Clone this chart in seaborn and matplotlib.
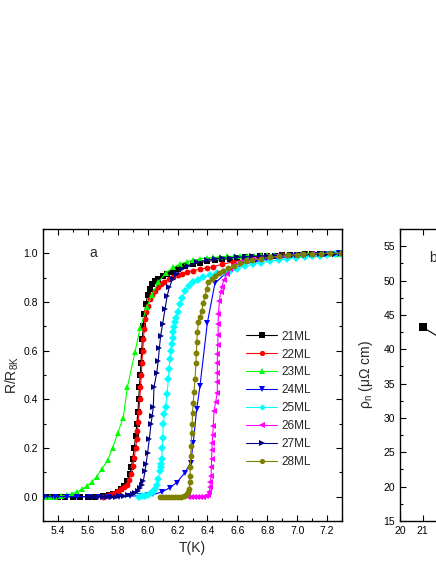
import numpy as np
import pandas as pd
import seaborn as sns
import matplotlib
matplotlib.use("Agg")
from matplotlib import pyplot as plt
import matplotlib.ticker as ticker

# ---- panel a data: R/R8K vs T(K) ----
T_21 = [5.31, 5.35, 5.40, 5.45, 5.50, 5.55, 5.60, 5.65, 5.70, 5.74, 5.77, 5.80, 5.82, 5.84, 5.86, 5.88,
        5.89, 5.90, 5.91, 5.92, 5.928, 5.935, 5.94, 5.945, 5.95, 5.955, 5.96, 5.965, 5.97, 5.978, 5.988,
        6.0, 6.015, 6.03, 6.05, 6.07, 6.1, 6.13, 6.17, 6.2, 6.25, 6.3, 6.35, 6.4, 6.45, 6.5, 6.55, 6.6,
        6.65, 6.7, 6.75, 6.8, 6.85, 6.9, 6.95, 7.0, 7.05, 7.1, 7.15, 7.2, 7.25, 7.29]
R_21 = [0.0, 0.0, 0.0, 0.0, 0.0, 0.0, 0.0, 0.0, 0.002, 0.005, 0.01, 0.02, 0.03, 0.045, 0.064, 0.092,
        0.12, 0.155, 0.2, 0.25, 0.3, 0.35, 0.4, 0.45, 0.5, 0.55, 0.6, 0.65, 0.7, 0.75, 0.79,
        0.83, 0.855, 0.872, 0.886, 0.896, 0.906, 0.915, 0.922, 0.935, 0.946, 0.955, 0.962, 0.967, 0.971, 0.975, 0.978, 0.98,
        0.983, 0.985, 0.987, 0.989, 0.991, 0.992, 0.994, 0.995, 0.996, 0.997, 0.998, 0.998, 0.999, 1.0]

T_22 = [5.70, 5.72, 5.74, 5.76, 5.78, 5.80, 5.82, 5.84, 5.86, 5.875, 5.89, 5.90, 5.91, 5.92, 5.927,
        5.932, 5.937, 5.942, 5.947, 5.952, 5.957, 5.962, 5.967, 5.972, 5.977, 5.983, 5.99, 6.0, 6.016,
        6.03, 6.049, 6.07, 6.09, 6.11, 6.14, 6.17, 6.2, 6.23, 6.26, 6.3, 6.35, 6.4, 6.44, 6.5, 6.57,
        6.65, 6.72, 6.8, 6.9, 7.0, 7.1, 7.2, 7.29]
R_22 = [0.0, 0.002, 0.005, 0.009, 0.015, 0.022, 0.03, 0.038, 0.048, 0.07, 0.095, 0.125, 0.16, 0.2, 0.236,
        0.27, 0.305, 0.35, 0.4, 0.45, 0.5, 0.55, 0.6, 0.65, 0.69, 0.73, 0.76, 0.785, 0.812,
        0.83, 0.846, 0.862, 0.874, 0.883, 0.893, 0.901, 0.909, 0.916, 0.922, 0.929, 0.935, 0.94, 0.945, 0.955, 0.965,
        0.975, 0.982, 0.988, 0.992, 0.995, 0.997, 0.999, 1.0]

T_23 = [5.313, 5.347, 5.38, 5.42, 5.459, 5.492, 5.529, 5.561, 5.596, 5.626, 5.659, 5.693, 5.733, 5.766,
        5.80, 5.837, 5.864, 5.915, 5.95, 5.994, 6.027, 6.071, 6.12, 6.172, 6.216, 6.261, 6.305, 6.35,
        6.395, 6.439, 6.485, 6.53, 6.575, 6.62, 6.665, 6.71, 6.755, 6.80, 6.845, 6.89, 6.935, 6.98,
        7.025, 7.07, 7.115, 7.16, 7.205, 7.25, 7.295]
R_23 = [0.0, 0.0, 0.0, 0.002, 0.007, 0.012, 0.02, 0.03, 0.044, 0.06, 0.082, 0.112, 0.15, 0.20,
        0.262, 0.325, 0.449, 0.593, 0.695, 0.778, 0.828, 0.881, 0.919, 0.942, 0.956, 0.965, 0.972, 0.977,
        0.981, 0.983, 0.985, 0.987, 0.988, 0.989, 0.99, 0.991, 0.992, 0.993, 0.994, 0.994, 0.995, 0.995,
        0.996, 0.997, 0.997, 0.998, 0.998, 0.999, 0.999]

T_24 = [5.31, 5.38, 5.459, 5.53, 5.6, 5.67, 5.74, 5.81, 5.88, 5.95, 6.0, 6.038, 6.094, 6.149, 6.194,
        6.25, 6.288, 6.305, 6.328, 6.35, 6.399, 6.45, 6.517, 6.58, 6.65, 6.72, 6.8, 6.88, 6.96, 7.04,
        7.12, 7.2, 7.28]
R_24 = [0.0, 0.0, 0.0, 0.0, 0.0, 0.0, 0.0, 0.0, 0.002, 0.004, 0.006, 0.009, 0.019, 0.037, 0.058,
        0.099, 0.14, 0.222, 0.359, 0.455, 0.713, 0.877, 0.915, 0.94, 0.956, 0.966, 0.975, 0.982, 0.988, 0.992,
        0.995, 0.998, 1.0]

T_25 = [5.94, 5.96, 5.98, 6.0, 6.02, 6.035, 6.049, 6.06, 6.071, 6.083, 6.088, 6.09, 6.094, 6.098, 6.1,
        6.105, 6.112, 6.12, 6.13, 6.138, 6.144, 6.149, 6.155, 6.161, 6.167, 6.172, 6.178, 6.183, 6.19,
        6.2, 6.216, 6.23, 6.25, 6.275, 6.305, 6.34, 6.372, 6.42, 6.462, 6.51, 6.55, 6.6, 6.65, 6.707,
        6.76, 6.82, 6.88, 6.93, 6.99, 7.05, 7.1, 7.153, 7.2, 7.25, 7.29]
R_25 = [0.0, 0.002, 0.004, 0.008, 0.014, 0.02, 0.03, 0.05, 0.071, 0.105, 0.12, 0.135, 0.153, 0.2, 0.24,
        0.3, 0.34, 0.37, 0.42, 0.483, 0.525, 0.565, 0.6, 0.627, 0.652, 0.675, 0.697, 0.716, 0.735,
        0.76, 0.791, 0.815, 0.846, 0.866, 0.881, 0.892, 0.901, 0.91, 0.918, 0.922, 0.926, 0.937, 0.946, 0.956,
        0.962, 0.968, 0.973, 0.977, 0.981, 0.985, 0.988, 0.99, 0.993, 0.996, 0.998]

T_26 = [6.27, 6.29, 6.31, 6.33, 6.35, 6.37, 6.39, 6.405, 6.412, 6.417, 6.42, 6.424, 6.426, 6.428, 6.43,
        6.432, 6.435, 6.439, 6.444, 6.455, 6.466, 6.466, 6.466, 6.466, 6.467, 6.469, 6.471, 6.472, 6.473,
        6.48, 6.488, 6.495, 6.51, 6.529, 6.55, 6.58, 6.62, 6.66, 6.7, 6.75, 6.8, 6.86, 6.92, 6.98, 7.04,
        7.1, 7.16, 7.22, 7.28]
R_26 = [0.0, 0.0, 0.0, 0.0, 0.0, 0.0, 0.002, 0.008, 0.02, 0.041, 0.06, 0.085, 0.12, 0.153, 0.19,
        0.222, 0.255, 0.29, 0.352, 0.39, 0.428, 0.47, 0.51, 0.55, 0.586, 0.625, 0.664, 0.71, 0.75,
        0.805, 0.84, 0.86, 0.89, 0.915, 0.935, 0.952, 0.963, 0.97, 0.975, 0.98, 0.984, 0.988, 0.991, 0.993, 0.995,
        0.997, 0.998, 0.999, 1.0]

T_27 = [5.61, 5.64, 5.67, 5.70, 5.73, 5.76, 5.79, 5.81, 5.84, 5.87, 5.9, 5.915, 5.935, 5.949, 5.96,
        5.971, 5.982, 5.989, 6.0, 6.011, 6.022, 6.03, 6.038, 6.042, 6.061, 6.071, 6.078, 6.087, 6.1,
        6.116, 6.131, 6.145, 6.167, 6.194, 6.228, 6.272, 6.328, 6.395, 6.45, 6.5, 6.55, 6.6, 6.65, 6.7,
        6.75, 6.8, 6.85, 6.9, 6.95, 7.0, 7.05, 7.1, 7.15, 7.2, 7.25, 7.29]
R_27 = [0.0, 0.0, 0.0, 0.0, 0.0, 0.0, 0.0, 0.001, 0.002, 0.005, 0.01, 0.016, 0.025, 0.037, 0.05,
        0.064, 0.105, 0.133, 0.181, 0.236, 0.298, 0.33, 0.37, 0.449, 0.51, 0.558, 0.609, 0.661, 0.709,
        0.771, 0.826, 0.86, 0.894, 0.915, 0.935, 0.949, 0.963, 0.972, 0.977, 0.98, 0.982, 0.984, 0.986, 0.987,
        0.989, 0.99, 0.991, 0.992, 0.993, 0.994, 0.995, 0.996, 0.997, 0.998, 0.999, 1.0]

T_28 = [6.08, 6.10, 6.12, 6.14, 6.16, 6.18, 6.2, 6.22, 6.24, 6.255, 6.265, 6.272, 6.279, 6.281, 6.283,
        6.285, 6.288, 6.291, 6.295, 6.298, 6.3, 6.305, 6.31, 6.317, 6.323, 6.326, 6.328, 6.333, 6.339,
        6.35, 6.361, 6.372, 6.384, 6.395, 6.406, 6.428, 6.45, 6.48, 6.506, 6.54, 6.58, 6.618, 6.66, 6.7,
        6.76, 6.819, 6.88, 6.94, 7.0, 7.041, 7.1, 7.16, 7.22, 7.29]
R_28 = [0.0, 0.0, 0.0, 0.0, 0.0, 0.0, 0.0, 0.0, 0.002, 0.005, 0.012, 0.02, 0.03, 0.06, 0.085,
        0.12, 0.167, 0.21, 0.263, 0.3, 0.345, 0.386, 0.43, 0.483, 0.551, 0.59, 0.634, 0.675, 0.716,
        0.74, 0.764, 0.795, 0.826, 0.855, 0.881, 0.895, 0.908, 0.92, 0.928, 0.938, 0.948, 0.959, 0.967, 0.972,
        0.978, 0.984, 0.988, 0.992, 0.995, 0.997, 0.998, 0.999, 1.0, 1.0]

# ---- panel b data (only the left edge is visible) ----
thick_b = [21, 22]
rho_b = [43.2, 41.2]

series = [
    ("21ML", T_21, R_21, "black", "s"),
    ("22ML", T_22, R_22, "red", "o"),
    ("23ML", T_23, R_23, "#00ff00", "^"),
    ("24ML", T_24, R_24, "blue", "v"),
    ("25ML", T_25, R_25, "cyan", "D"),
    ("26ML", T_26, R_26, "magenta", "<"),
    ("27ML", T_27, R_27, "navy", ">"),
    ("28ML", T_28, R_28, "olive", "o"),
]

sns.set_theme(style="ticks")
plt.rcParams['font.family'] = ['Liberation Sans', 'DejaVu Sans']
plt.rcParams['mathtext.default'] = 'regular'
plt.rcParams['xtick.direction'] = 'in'
plt.rcParams['ytick.direction'] = 'in'

fig = plt.figure(figsize=(4.36, 5.64), dpi=100)
ax = fig.add_axes([43 / 436, 43 / 564, 299 / 436, 292 / 564])

for name, t, r, clr, mk in series:
    df = pd.DataFrame({"T": t, "R": r})
    ms = 3.6 if mk == "D" else 4.2
    sns.lineplot(data=df, x="T", y="R", ax=ax, color=clr, marker=mk, markersize=ms,
                 markeredgewidth=0, linewidth=0.8, label=name, estimator=None, sort=False)

ax.set_xlim(5.3, 7.3)
ax.set_ylim(-0.1, 1.1)
ax.xaxis.set_major_locator(ticker.MultipleLocator(0.2))
ax.xaxis.set_minor_locator(ticker.MultipleLocator(0.1))
ax.yaxis.set_major_locator(ticker.MultipleLocator(0.2))
ax.yaxis.set_minor_locator(ticker.MultipleLocator(0.1))
ax.xaxis.set_major_formatter(ticker.FormatStrFormatter('%.1f'))
ax.yaxis.set_major_formatter(ticker.FormatStrFormatter('%.1f'))
ax.tick_params(which='both', direction='in', top=True, right=True, labelsize=7.5, width=0.8, colors='black')
ax.tick_params(which='major', length=4)
ax.tick_params(which='minor', length=2.5)
for s in ax.spines.values():
    s.set_linewidth(1.0)
    s.set_color('black')
ax.set_xlabel("T(K)", fontsize=10)
ax.set_ylabel("R/R$_{8K}$", fontsize=10, labelpad=2)
ax.text(0.167, 0.918, "a", transform=ax.transAxes, fontsize=10, ha='center', va='center')

leg = ax.legend(loc='upper left', bbox_to_anchor=(0.68, 0.652), frameon=False, fontsize=8.5,
                handlelength=2.6, handletextpad=0.35, labelspacing=0.5, borderpad=0, borderaxespad=0,
                markerscale=0.9)

# ---- panel b (cut off at right edge) ----
axb = fig.add_axes([400 / 436, 43 / 564, 300 / 436, 292 / 564])
dfb = pd.DataFrame({"d": thick_b, "rho": rho_b})
sns.lineplot(data=dfb, x="d", y="rho", ax=axb, color="black", marker="s", markersize=6,
             markeredgewidth=0, linewidth=0.8, estimator=None, sort=False)
axb.set_xlim(20, 33.2)
axb.set_ylim(15, 57.5)
axb.set_xticks([20, 21])
axb.yaxis.set_major_locator(ticker.MultipleLocator(5))
axb.yaxis.set_minor_locator(ticker.MultipleLocator(2.5))
axb.tick_params(which='both', direction='in', top=True, right=True, labelsize=7.5, width=0.8, colors='black')
axb.tick_params(which='major', length=4)
axb.tick_params(which='minor', length=2.5)
for s in axb.spines.values():
    s.set_linewidth(1.0)
    s.set_color('black')
axb.set_xlabel("")
axb.set_ylabel("ρ$_n$ (μΩ cm)", fontsize=10, labelpad=6)
axb.text(0.11, 0.9, "b", transform=axb.transAxes, fontsize=10, ha='center', va='center')

fig.savefig("out.png", dpi=100)
